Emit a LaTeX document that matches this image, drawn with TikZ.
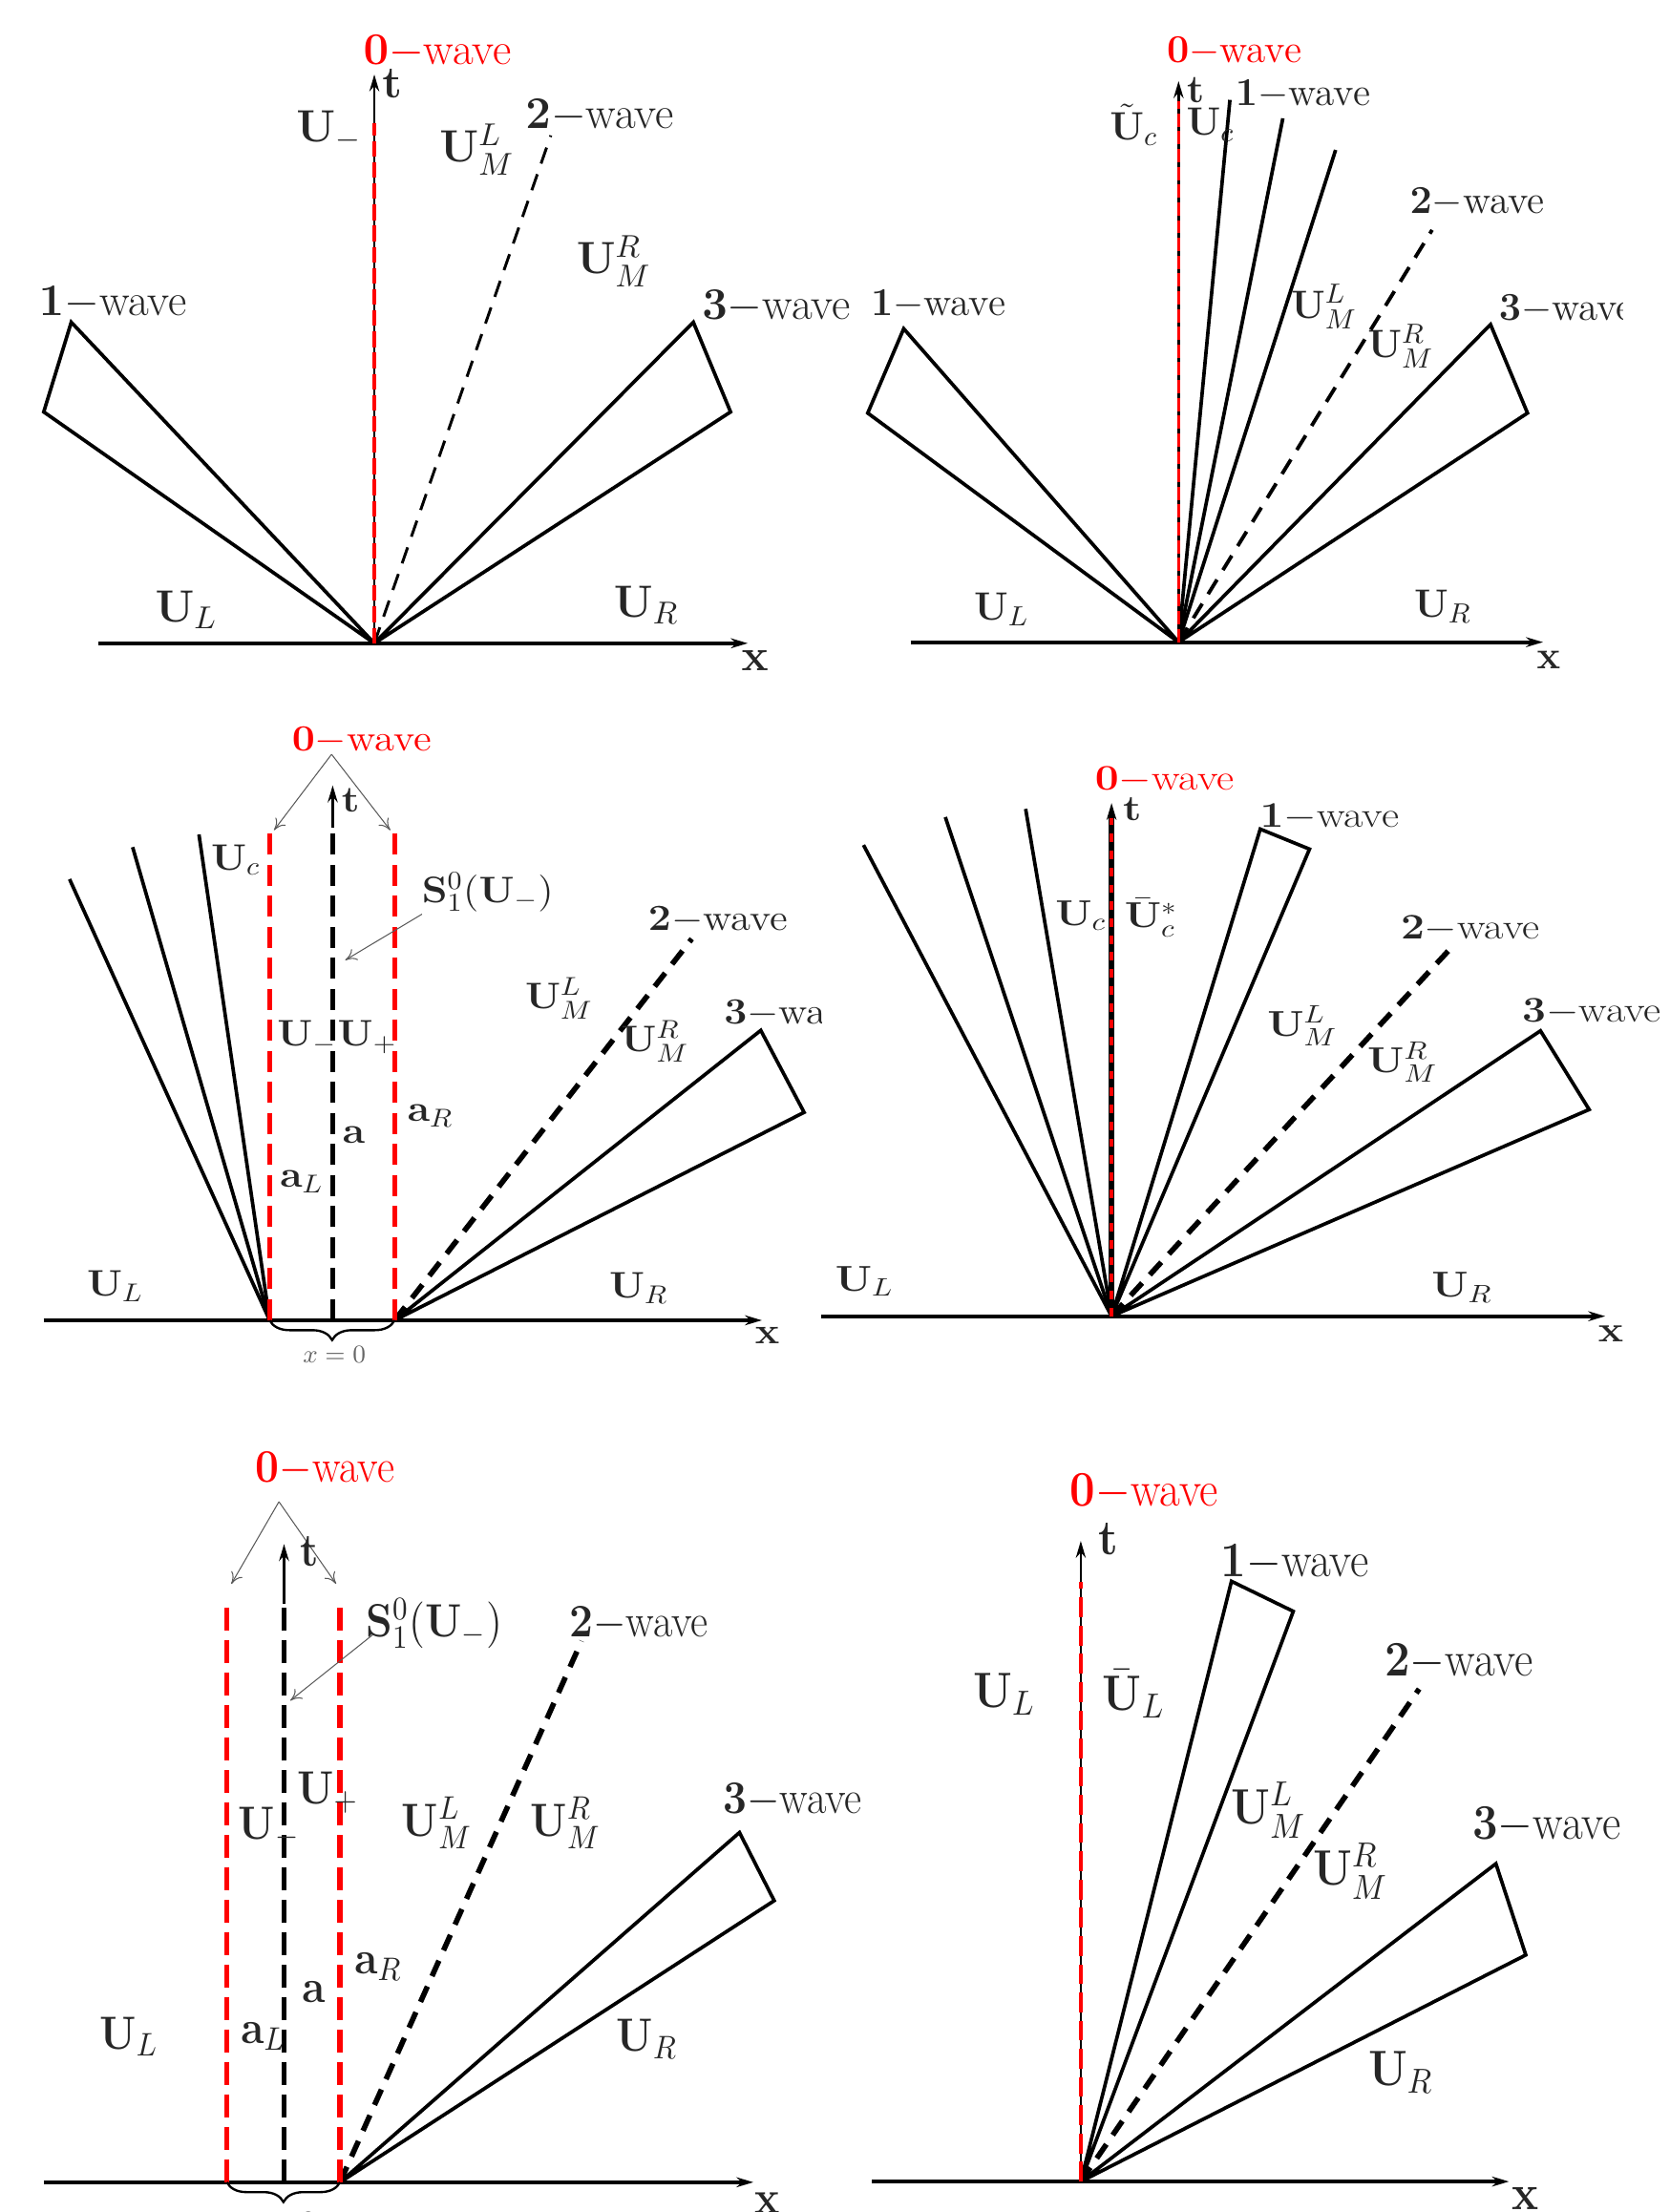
\RequirePackage{fix-cm}
\documentclass[tikz,border=0pt]{standalone}
\usepackage{amsmath}
\usetikzlibrary{arrows.meta,decorations.pathreplacing}
\newcommand{\wavelab}[1]{$\mathbf{#1}-$wave}
\newcommand{\Ub}{\mathbf{U}}
\tikzset{
 wv/.style={line width=1.25pt, line join=miter},
 tax/.style={line width=0.7pt, -{Stealth[length=6pt,width=3.5pt]}},
 xax/.style={line width=1.3pt, -{Stealth[length=6pt,width=3.5pt]}},
 lbl/.style={text=black!85, inner sep=0pt},
 zlbl/.style={text=red, inner sep=0pt},
 ptr/.style={draw=black!65, line width=0.35pt, -{To[length=4pt,width=4.5pt]}},
 thinwave/.style={line width=1pt, dash pattern=on 6pt off 4pt},
 thickwave/.style={line width=1.9pt, dash pattern=on 6pt off 4pt},
 tdash/.style={line width=1.9pt, dash pattern=on 7.5pt off 3.5pt},
 rdash/.style={draw=red, line width=1.9pt, dash pattern=on 7.5pt off 3.5pt},
 bracestyle/.style={line width=0.8pt, decorate, decoration={brace, mirror, amplitude=7pt}},
 smalllbl/.style={text=black!60, inner sep=0pt, font=\fontsize{9}{10}\selectfont},
 f1/.style={font=\fontsize{16}{19}\selectfont},
 f2/.style={font=\fontsize{14}{17}\selectfont},
 f3/.style={font=\fontsize{14.5}{17}\selectfont, yscale=0.9},
 f4/.style={font=\fontsize{15}{18}\selectfont, yscale=0.85},
 f5/.style={font=\fontsize{15}{18}\selectfont, yscale=1.1},
 f6/.style={font=\fontsize{16}{19}\selectfont, yscale=1.1},
}
\begin{document}
\begin{tikzpicture}[x=0.5pt,y=-0.5pt]
\useasboundingbox (0,0) rectangle (1183,1568);

% ================= Panel 1 =================
\coordinate (p1o) at (265.3,456);
\coordinate (p1t) at (265.3,52.8);
\coordinate (p1xl) at (70,456);
\coordinate (p1xr) at (530,456);
\coordinate (p1r) at (265.3,87);
\coordinate (p1w2) at (390.4,96);
\coordinate (p1a) at (50.5,228.4);
\coordinate (p1b) at (31,292);
\coordinate (p1c) at (491.4,228.4);
\coordinate (p1d) at (517.8,292);
\draw[wv] (p1o) -- (p1a) -- (p1b) -- (p1o);
\draw[wv] (p1o) -- (p1c) -- (p1d) -- (p1o);
\draw[thinwave] (p1o) -- (p1w2);
\draw[xax] (p1xl) -- (p1xr);
\draw[tax] (p1o) -- (p1t);
\draw[red, line width=1.6pt, dash pattern=on 5.5pt off 2pt] (p1o) -- (p1r);
\node[zlbl,f1] (n1zero) at (310,36.7) {\wavelab{0}};
\node[lbl,f1] (n1t) at (278,59) {$\mathbf{t}$};
\node[lbl,f1] (n1x) at (535,468) {$\mathbf{x}$};
\node[lbl,f1] (n1um) at (233,93) {$\Ub_-$};
\node[lbl,f1] (n1uml) at (338,106) {$\Ub_M^L$};
\node[lbl,f1] (n1w2) at (425,82) {\wavelab{2}};
\node[lbl,f1] (n1umr) at (435,185) {$\Ub_M^R$};
\node[lbl,f1] (n1w1) at (80,214.5) {\wavelab{1}};
\node[lbl,f1,anchor=west] (n1w3) at (497.2,217.5) {\wavelab{3}};
\node[lbl,f1] (n1ul) at (132,432) {$\Ub_L$};
\node[lbl,f1] (n1ur) at (458,429) {$\Ub_R$};

% ================= Panel 2 =================
\begin{scope}
\clip (600,0) rectangle (1150,500);
\coordinate (p2o) at (835.3,455.2);
\coordinate (p2t) at (835.3,57.5);
\coordinate (p2xl) at (645.4,455.2);
\coordinate (p2xr) at (1093.6,455.2);
\coordinate (p2r) at (835.3,71.5);
\coordinate (p2f1) at (871.7,70.8);
\coordinate (p2f2) at (909.2,83.9);
\coordinate (p2f3) at (946.6,106.3);
\coordinate (p2w2) at (1015,163);
\coordinate (p2a) at (640.5,233);
\coordinate (p2b) at (615,292.8);
\coordinate (p2c) at (1056.4,230);
\coordinate (p2d) at (1082.6,292.8);
\draw[wv] (p2o) -- (p2a) -- (p2b) -- (p2o);
\draw[wv] (p2o) -- (p2c) -- (p2d) -- (p2o);
\draw[wv] (p2o) -- (p2f1);
\draw[wv] (p2o) -- (p2f2);
\draw[wv] (p2o) -- (p2f3);
\draw[line width=1.3pt, dash pattern=on 6pt off 4pt] (p2o) -- (p2w2);
\draw[xax] (p2xl) -- (p2xr);
\draw[tax, line width=1pt] (p2o) -- (p2t);
\draw[red, line width=1.2pt, dash pattern=on 4.7pt off 1.6pt] (p2o) -- (p2r);
\node[zlbl,f2] (n2zero) at (874.7,36.6) {\wavelab{0}};
\node[lbl,f2] (n2t) at (847.3,63.7) {$\mathbf{t}$};
\node[lbl,f2] (n2x) at (1097.6,467.6) {$\mathbf{x}$};
\node[lbl,f2] (n2uct) at (803.5,88.5) {$\tilde{\Ub}_c$};
\node[lbl,f2] (n2uc) at (857.8,88.5) {$\Ub_c$};
\node[lbl,f2] (n2w1t) at (923.4,66.8) {\wavelab{1}};
\node[lbl,f2] (n2w2) at (1047,143.6) {\wavelab{2}};
\node[lbl,f2] (n2uml) at (938.4,217.5) {$\Ub_M^L$};
\node[lbl,f2] (n2umr) at (992.7,245.5) {$\Ub_M^R$};
\node[lbl,f2] (n2w1) at (664.9,216) {\wavelab{1}};
\node[lbl,f2,anchor=west] (n2w3) at (1062,219) {\wavelab{3}};
\node[lbl,f2] (n2ul) at (709.8,431.8) {$\Ub_L$};
\node[lbl,f2] (n2ur) at (1022.6,430) {$\Ub_R$};
\end{scope}

% ================= Panel 3 =================
\begin{scope}
\clip (0,500) rectangle (582,990);
\coordinate (p3xl) at (31,935.9);
\coordinate (p3xr) at (540,935.9);
\coordinate (p3o) at (235.8,935.9);
\coordinate (p3tm) at (235.8,586.8);
\coordinate (p3t) at (235.8,556.7);
\coordinate (p3bl) at (191.1,935.9);
\coordinate (p3br) at (279.7,935.9);
\coordinate (p3tl) at (191.1,588.5);
\coordinate (p3tr) at (279.7,588.5);
\coordinate (p3l1) at (49.3,623.2);
\coordinate (p3l2) at (94,600.5);
\coordinate (p3l3) at (141,591.5);
\coordinate (p3w2) at (490.3,665.5);
\coordinate (p3c) at (539.2,730.4);
\coordinate (p3d) at (569.9,788.5);
\coordinate (p3apex) at (235,534.7);
\coordinate (p3al) at (194.2,588.5);
\coordinate (p3ar) at (276.6,588.5);
\coordinate (p3s1) at (299.1,648);
\coordinate (p3s2) at (244.7,680.6);
\draw[wv] (p3bl) -- (p3l1);
\draw[wv] (p3bl) -- (p3l2);
\draw[wv] (p3bl) -- (p3l3);
\draw[wv] (p3br) -- (p3c) -- (p3d) -- (p3br);
\draw[thickwave] (p3br) -- (p3w2);
\draw[xax] (p3xl) -- (p3xr);
\draw[tdash] (p3o) -- (p3tm);
\draw[tax, line width=1.2pt] (p3tm) -- (p3t);
\draw[rdash] (p3bl) -- (p3tl);
\draw[rdash] (p3br) -- (p3tr);
\draw[ptr] (p3apex) -- (p3al);
\draw[ptr] (p3apex) -- (p3ar);
\draw[ptr] (p3s1) -- (p3s2);
\draw[bracestyle] (p3bl) -- (p3br);
\node[smalllbl] (n3x0) at (237,960) {$x=0$};
\node[zlbl,f3] (n3zero) at (256.4,525) {\wavelab{0}};
\node[lbl,f3] (n3t) at (248.6,567.3) {$\mathbf{t}$};
\node[lbl,f3] (n3x) at (543.8,946.5) {$\mathbf{x}$};
\node[lbl,f3] (n3uc) at (167,609.6) {$\Ub_c$};
\node[lbl,f3] (n3s) at (345.7,632.2) {$\mathbf{S}_1^0(\Ub_-)$};
\node[lbl,f3] (n3w2) at (508.9,651.9) {\wavelab{2}};
\node[lbl,f3] (n3uml) at (396.2,707.8) {$\Ub_M^L$};
\node[lbl,f3] (n3umr) at (464.2,738) {$\Ub_M^R$};
\node[lbl,f3,anchor=west] (n3w3) at (512.8,718.3) {\wavelab{3}};
\node[lbl,f3] (n3um) at (217.5,735) {$\Ub_-$};
\node[lbl,f3] (n3up) at (260.3,735) {$\Ub_+$};
\node[lbl,f3] (n3ar) at (305,790.8) {$\mathbf{a}_R$};
\node[lbl,f3] (n3a) at (250.6,804.4) {$\mathbf{a}$};
\node[lbl,f3] (n3al) at (213.7,837.6) {$\mathbf{a}_L$};
\node[lbl,f3] (n3ul) at (81.6,911.6) {$\Ub_L$};
\node[lbl,f3] (n3ur) at (452.6,913.2) {$\Ub_R$};
\end{scope}

% ================= Panel 4 =================
\coordinate (p4o) at (787.8,933);
\coordinate (p4t) at (787.8,569.2);
\coordinate (p4xl) at (582,933);
\coordinate (p4xr) at (1137.7,933);
\coordinate (p4r) at (787.8,580);
\coordinate (p4l1) at (612,599);
\coordinate (p4l2) at (670,579.2);
\coordinate (p4l3) at (726.9,573.4);
\coordinate (p4a) at (893.2,587.7);
\coordinate (p4b) at (928.1,601.9);
\coordinate (p4w2) at (1031.2,668.9);
\coordinate (p4c) at (1091.8,730.7);
\coordinate (p4d) at (1126.3,786.5);
\node[lbl,f4] (n4uc) at (766,649) {$\Ub_c$};
\draw[wv] (p4o) -- (p4l1);
\draw[wv] (p4o) -- (p4l2);
\draw[wv] (p4o) -- (p4l3);
\draw[wv] (p4o) -- (p4a) -- (p4b) -- (p4o);
\draw[wv] (p4o) -- (p4c) -- (p4d) -- (p4o);
\draw[thickwave] (p4o) -- (p4w2);
\draw[xax] (p4xl) -- (p4xr);
\draw[tax, line width=1.8pt] (p4o) -- (p4t);
\draw[red, line width=1.6pt, dash pattern=on 3pt off 3pt] (p4o) -- (p4r);
\node[zlbl,f4] (n4zero) at (825.4,552.9) {\wavelab{0}};
\node[lbl,f4] (n4t) at (802.4,573.4) {$\mathbf{t}$};
\node[lbl,f4] (n4x) at (1141.6,945.2) {$\mathbf{x}$};
\node[lbl,f4] (n4ucb) at (815.8,650.4) {$\bar{\Ub}_c^*$};
\node[lbl,f4] (n4w1) at (942.3,579.2) {\wavelab{1}};
\node[lbl,f4] (n4w2) at (1042,658.4) {\wavelab{2}};
\node[lbl,f4] (n4uml) at (923.1,727.3) {$\Ub_M^L$};
\node[lbl,f4] (n4umr) at (994,752.9) {$\Ub_M^R$};
\node[lbl,f4,anchor=west] (n4w3) at (1078.4,717.3) {\wavelab{3}};
\node[lbl,f4] (n4ul) at (612.7,908.2) {$\Ub_L$};
\node[lbl,f4] (n4ur) at (1036.2,912.4) {$\Ub_R$};

% ================= Panel 5 =================
\coordinate (p5xl) at (31,1546.9);
\coordinate (p5xr) at (534,1546.9);
\coordinate (p5o) at (201.3,1546.9);
\coordinate (p5tm) at (201.3,1136.8);
\coordinate (p5t) at (201.3,1094.5);
\coordinate (p5bl) at (160.8,1546.9);
\coordinate (p5br) at (241,1546.9);
\coordinate (p5tl) at (160.8,1136.8);
\coordinate (p5tr) at (241,1136.8);
\coordinate (p5w2) at (412.2,1163.2);
\coordinate (p5c) at (524.1,1299);
\coordinate (p5d) at (548.7,1347.3);
\coordinate (p5apex) at (197.7,1064.5);
\coordinate (p5al) at (164,1122.7);
\coordinate (p5ar) at (238.2,1122.7);
\coordinate (p5s1) at (265.2,1158);
\coordinate (p5s2) at (205.7,1205.5);
\draw[wv] (p5br) -- (p5c) -- (p5d) -- (p5br);
\draw[thickwave] (p5br) -- (p5w2);
\draw[xax] (p5xl) -- (p5xr);
\draw[tdash, dash pattern=on 8pt off 3.5pt] (p5o) -- (p5tm);
\draw[tax, line width=1.2pt] (p5tm) -- (p5t);
\draw[rdash, dash pattern=on 8pt off 3.5pt] (p5bl) -- (p5tl);
\draw[rdash, dash pattern=on 8pt off 3.5pt] (p5br) -- (p5tr);
\draw[ptr] (p5apex) -- (p5al);
\draw[ptr] (p5apex) -- (p5ar);
\draw[ptr] (p5s1) -- (p5s2);
\draw[bracestyle] (p5bl) -- (p5br);
\node[smalllbl] (n5x0) at (201,1574) {$x=0$};
\node[zlbl,f5] (n5zero) at (230.3,1041.6) {\wavelab{0}};
\node[lbl,f5] (n5t) at (219.6,1099.8) {$\mathbf{t}$};
\node[lbl,f5] (n5x) at (544,1561.7) {$\mathbf{x}$};
\node[lbl,f5] (n5s) at (307.7,1151) {$\mathbf{S}_1^0(\Ub_-)$};
\node[lbl,f5] (n5w2) at (452.6,1151) {\wavelab{2}};
\node[lbl,f5] (n5up) at (232.3,1270.8) {$\Ub_+$};
\node[lbl,f5] (n5um) at (190.6,1295.5) {$\Ub_-$};
\node[lbl,f5] (n5uml) at (309.7,1292) {$\Ub_M^L$};
\node[lbl,f5] (n5umr) at (401,1292) {$\Ub_M^R$};
\node[lbl,f5] (n5w3) at (561.8,1276) {\wavelab{3}};
\node[lbl,f5] (n5ar) at (268,1394.1) {$\mathbf{a}_R$};
\node[lbl,f5] (n5a) at (222.3,1411.8) {$\mathbf{a}$};
\node[lbl,f5] (n5al) at (186.6,1443.5) {$\mathbf{a}_L$};
\node[lbl,f5] (n5ul) at (91.3,1443.5) {$\Ub_L$};
\node[lbl,f5] (n5ur) at (458.6,1445.3) {$\Ub_R$};

% ================= Panel 6 =================
\begin{scope}
\clip (600,1000) rectangle (1150,1568);
\coordinate (p6o) at (766,1546.4);
\coordinate (p6t) at (766,1092.3);
\coordinate (p6xl) at (618,1546.4);
\coordinate (p6xr) at (1069.5,1546.4);
\coordinate (p6r) at (766,1121.5);
\coordinate (p6a) at (872.8,1120.9);
\coordinate (p6b) at (916.6,1142.2);
\coordinate (p6w2) at (1005.8,1197.2);
\coordinate (p6c) at (1060.2,1321.1);
\coordinate (p6d) at (1081.4,1385.8);
\draw[wv] (p6o) -- (p6a) -- (p6b) -- (p6o);
\draw[wv] (p6o) -- (p6c) -- (p6d) -- (p6o);
\draw[thickwave] (p6o) -- (p6w2);
\draw[xax] (p6xl) -- (p6xr);
\draw[tax, line width=0.8pt] (p6o) -- (p6t);
\draw[red, line width=1.6pt, dash pattern=on 7pt off 3pt] (p6o) -- (p6r);
\node[zlbl,f6] (n6zero) at (811,1058) {\wavelab{0}};
\node[lbl,f6] (n6t) at (785.9,1090.6) {$\mathbf{t}$};
\node[lbl,f6] (n6x) at (1080.8,1558.5) {$\mathbf{x}$};
\node[lbl,f6] (n6ul) at (711.7,1200.7) {$\Ub_L$};
\node[lbl,f6] (n6ulb) at (803.5,1200.7) {$\bar{\Ub}_L$};
\node[lbl,f6] (n6w1) at (917.8,1107.8) {\wavelab{1}};
\node[lbl,f6] (n6w2) at (1033.9,1178.3) {\wavelab{2}};
\node[lbl,f6] (n6uml) at (899,1283.2) {$\Ub_M^L$};
\node[lbl,f6] (n6umr) at (957.1,1326.3) {$\Ub_M^R$};
\node[lbl,f6,anchor=west] (n6w3) at (1043.3,1293.6) {\wavelab{3}};
\node[lbl,f6] (n6ur) at (992.7,1469) {$\Ub_R$};
\end{scope}
\end{tikzpicture}
\end{document}
